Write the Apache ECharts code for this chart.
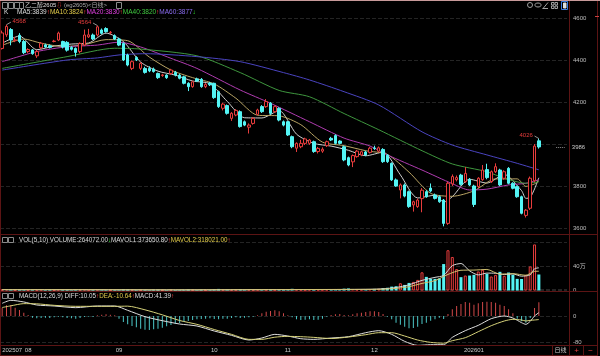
<!DOCTYPE html>
<html><head><meta charset="utf-8">
<script src="https://cdn.jsdelivr.net/npm/echarts@6/dist/echarts.min.js"></script>
<style>html,body{margin:0;padding:0;background:#000;}#c{width:600px;height:356px;}</style>
</head><body><div id="c"></div>
<script>
// ---------- data ----------
const opens = [
4455,4520,4545,4492,4518,4488,4440,4448,4420,4458,
4472,4468,4488,4495,4488,4484,4460,4455,4440,4471,
4510,4519,4519,4543,4550,4530,4516,4500,4479,4424,
4360,4412,4360,4360,4360,4357,4336,4326,4328,4336,
4341,4328,4320,4289,4273,4310,4308,4273,4290,4289,
4249,4170,4183,4122,4138,4154,4106,4080,4098,4141,
4178,4178,4194,4154,4170,4106,4106,4035,3980,3987,
4003,4003,4011,3964,3966,3992,4027,4040,4014,3987,
3935,3915,3940,3948,3962,3960,3981,3966,3974,3947,
3908,3829,3781,3805,3773,3710,3702,3740,3773,3790,
3757,3749,3733,3622,3810,3830,3852,3821,3832,3800,
3797,3830,3878,3821,3868,3876,3837,3884,3813,3797,
3749,3660,3694,3825,4015];
const closes = [
4529,4560,4495,4496,4488,4435,4450,4430,4440,4480,
4462,4460,4490,4528,4462,4447,4451,4436,4479,4519,
4520,4500,4558,4527,4535,4532,4500,4471,4400,4376,
4392,4400,4384,4341,4348,4345,4316,4329,4316,4352,
4328,4313,4289,4273,4296,4300,4273,4284,4282,4221,
4178,4190,4146,4146,4160,4083,4090,4090,4122,4162,
4154,4202,4146,4178,4114,4090,4043,3987,4003,4003,
4024,4019,3964,3979,3975,4011,4019,4003,4003,3924,
3900,3945,3966,3963,3948,3980,3979,3982,3916,3916,
3829,3800,3805,3752,3702,3725,3733,3780,3749,3776,
3741,3725,3622,3813,3845,3840,3808,3860,3805,3712,
3837,3876,3840,3868,3892,3805,3868,3813,3789,3749,
3670,3685,3837,3990,3986];
const highs = [
4540,4568,4552,4510,4528,4495,4456,4452,4448,4486,
4478,4474,4496,4535,4492,4490,4466,4460,4484,4545,
4548,4526,4564,4550,4556,4538,4522,4506,4484,4430,
4398,4418,4390,4368,4370,4364,4340,4334,4332,4358,
4348,4334,4325,4294,4302,4316,4314,4290,4296,4292,
4254,4196,4188,4152,4166,4160,4112,4098,4128,4168,
4185,4214,4200,4184,4175,4112,4110,4040,4008,4020,
4030,4024,4016,3986,3984,4016,4034,4046,4018,3992,
3940,3950,3972,3968,3968,3986,3992,3988,3980,3952,
3912,3836,3812,3812,3778,3730,3740,3790,3780,3812,
3764,3755,3738,3820,3855,3850,3858,3890,3838,3806,
3842,3900,3906,3874,3908,3882,3875,3890,3818,3802,
3754,3690,3845,4000,4026];
const lows = [
4450,4510,4470,4485,4480,4428,4432,4425,4410,4452,
4458,4455,4484,4490,4455,4440,4445,4416,4432,4466,
4505,4495,4512,4522,4530,4522,4495,4466,4395,4370,
4352,4395,4352,4335,4342,4340,4310,4320,4310,4330,
4322,4308,4284,4252,4268,4295,4268,4266,4276,4215,
4172,4160,4140,4110,4132,4078,4085,4050,4092,4136,
4148,4172,4140,4148,4108,4084,4038,3980,3962,3980,
3995,3996,3958,3955,3958,3986,4014,3998,3998,3918,
3894,3890,3935,3942,3942,3955,3972,3960,3910,3910,
3824,3796,3741,3746,3696,3678,3696,3675,3744,3770,
3736,3720,3608,3615,3800,3822,3802,3815,3800,3700,
3790,3825,3832,3815,3862,3800,3830,3808,3784,3744,
3665,3650,3686,3818,3978];
const volumes = [
14000,22000,16000,9000,12000,18000,11000,8000,13000,15000,9000,10000,8000,16000,12000,14000,9000,13000,15000,20000,12000,10000,18000,11000,9000,7000,10000,13000,24000,19000,
12000,10000,9000,11000,8000,14000,12000,7000,9000,11000,8000,10000,13000,16000,11000,9000,12000,8000,10000,20000,26000,14000,18000,12000,15000,22000,13000,16000,12000,14000,
10000,15000,18000,12000,16000,20000,24000,28000,18000,14000,12000,16000,22000,15000,13000,18000,12000,20000,16000,30000,34000,22000,18000,15000,20000,24000,26000,28000,
40000,45000,64000,70000,120000,92000,125000,142000,175000,300000,225000,192000,192000,200000,436000,664000,553000,353000,220000,247000,247000,258000,314000,342000,275000,231000,258000,308000,242000,297000,258000,192000,190000,258000,397000,760000,264072];
const macdHist = [
25,32,33,25,18,10,3,
-5,-7,-6,-5,-6,-4,-2,-4,-6,-7,-8,-6,-3,-2,-3,2,4,5,4,2,
-8,-18,-25,-30,-34,-38,-41,-42,-40,-38,-35,-31,-27,-24,-21,-18,-15,-12,-10,-9,-8,-7,-9,-10,-8,-8,-6,-4,-6,-5,-4,-2,2,8,13,15,17,14,8,2,-4,
-10,-12,-11,-10,-12,-11,-8,-2,3,5,6,3,2,5,8,10,12,14,14,12,6,-2,
-10,-20,-26,-32,-37,-36,-32,-24,-20,-14,-10,-5,-9,6,20,30,36,42,40,34,38,42,43,42,40,34,30,20,8,-8,-16,-20,-6,24,41.39];
// moving-average curves read at sample candles: [candle index, value]
const ma5Pts = [[0,4480],[4,4514],[8,4449],[12,4466],[16,4476],[20,4481],[24,4528],[28,4488],[32,4390],[36,4347],[40,4328],[44,4300],[48,4287],[52,4203],[56,4125],[60,4124],[64,4159],[68,4047],[72,4003],[76,3990],[80,3970],[84,3944],[88,3961],[92,3853],[96,3743],[100,3756],[102,3723],[104,3749],[108,3832],[112,3814],[116,3855],[120,3778],[121,3741],[122,3746],[123,3786],[124,3839]];
const ma10Pts = [[0,4470],[5,4500],[9,4480],[14,4464],[19,4473],[24,4497],[29,4492],[34,4414],[39,4352],[44,4316],[49,4286],[54,4218],[59,4137],[64,4134],[69,4092],[74,4009],[79,3992],[84,3968],[89,3950],[94,3866],[99,3765],[104,3751],[109,3777],[114,3834],[119,3834],[121,3798],[123,3810],[124,3824]];
const ma20Pts = [[0,4392],[8,4440],[15,4463],[22,4471],[27,4485],[32,4462],[39,4408],[45,4360],[55,4257],[62,4194],[71,4106],[79,4028],[85,3990],[89,3948],[97,3876],[104,3811],[108,3781],[112,3785],[117,3805],[121,3813],[124,3830]];
const ma40Pts = [[0,4360],[15,4416],[26,4456],[32,4452],[45,4420],[55,4340],[64,4255],[71,4225],[79,4145],[87,4068],[97,3968],[104,3905],[112,3868],[116,3837],[121,3813],[124,3820]];
const ma60Pts = [[0,4352],[15,4400],[22,4410],[27,4424],[33,4430],[45,4416],[55,4392],[65,4340],[71,4305],[79,4249],[87,4186],[97,4058],[104,3995],[112,3948],[119,3908],[124,3877]];
const mavol1Pts = [[0,14000],[20,13000],[40,10000],[60,14000],[75,16000],[85,20000],[88,28000],[91,49000],[94,94000],[97,167000],[100,217000],[102,249000],[104,409000],[106,445000],[108,324000],[110,257000],[112,287000],[114,284000],[116,263000],[118,273000],[120,236000],[122,259000],[123,359000],[124,373650.8]];
const mavol2Pts = [[0,14000],[20,13000],[40,11000],[60,14000],[75,17000],[85,19000],[88,22000],[91,35000],[94,63000],[97,117000],[100,163000],[103,265000],[106,334000],[109,337000],[112,347000],[115,270000],[118,278000],[121,251000],[123,316000],[124,318021]];
const diffPts = [[0,38],[2,47],[5,42],[8,33],[12,30],[17,25],[22,30],[26,30],[29,17],[33,-2],[37,-14],[41,-24],[45,-30],[49,-45],[53,-58],[57,-72],[60,-66],[63,-55],[66,-60],[69,-68],[72,-70],[76,-66],[80,-62],[84,-50],[87,-44],[90,-55],[93,-76],[96,-88],[99,-86],[102,-86],[104,-64],[107,-44],[110,-28],[113,-8],[116,0],[118,-6],[120,-20],[121,-25],[122,-16],[123,0],[124,10.05]];
const deaPts = [[0,25.5],[2,30.5],[5,37],[8,36.5],[12,32],[17,29],[22,29],[26,29],[29,29.5],[33,18.5],[37,3.5],[41,-13.5],[45,-25],[49,-40.5],[53,-55],[57,-70],[60,-70],[63,-63.5],[66,-61],[69,-62],[72,-64],[76,-67.5],[80,-63],[84,-56],[87,-50],[90,-50],[93,-60],[96,-72],[99,-79],[102,-81.5],[104,-74],[107,-65],[110,-47],[113,-29],[116,-15],[118,-10],[120,-12],[121,-15],[122,-13],[123,-12],[124,-10.64]];
const tickIdx  = [0, 6, 27, 49, 66, 86, 109];
const tickText = ['202507','08','09','10','11','12','202601'];
const peakIdx = [1, 22, 124];
const troughIdx = [102];
const padRight = 6; // empty slots at the right edge of the time axis

// ---------- chart ----------
const FONT = 'Liberation Sans, Arial, "Noto Sans CJK SC", sans-serif';
const RED = '#e83c3c', CYAN = '#54f4f4', FRAME = '#5c1414';
const n = closes.length;
const cats = Array.from({length: n + padRight}, (_, i) => String(i));
const candle = opens.map((o, i) => [o, closes[i], lows[i], highs[i]]);
const volData = volumes.map((v, i) => ({value: v, itemStyle: closes[i] >= opens[i]
  ? {color: '#000', borderColor: RED, borderWidth: 1} : {color: CYAN}}));
const macdData = macdHist.map(v => ({value: v, itemStyle: {color: v >= 0 ? '#d04848' : '#4cc8c8'}}));
const last = n - 1;

const marks = [];
peakIdx.forEach((i, k) => {
  const d = (k === 0) ? 1 : -1;
  const lab = {show: true, position: 'end', formatter: String(highs[i]), color: RED, fontSize: 6, fontFamily: FONT, distance: 2};
  marks.push([{coord: [String(i), highs[i]], label: lab}, {coord: [String(i + d), highs[i] + 12], label: lab}]);
});
troughIdx.forEach(i => {
  const lab = {show: true, position: 'end', formatter: String(lows[i]), color: '#5ad8d8', fontSize: 6, fontFamily: FONT, distance: 2};
  marks.push([{coord: [String(i), lows[i]], label: lab}, {coord: [String(i - 1), lows[i] - 12], label: lab}]);
});
{
  const lab = {show: true, position: 'end', formatter: String(closes[last]), color: '#c8c8c8', fontSize: 6, fontFamily: FONT, distance: 7};
  const ls = {type: 'dotted', color: '#909090', width: 1};
  marks.push([{coord: [String(last + 4), closes[last]], label: lab, lineStyle: ls}, {coord: [String(last + 6), closes[last]], label: lab, lineStyle: ls}]);
}

function maLine(pts, color, xi, yi, extra) {
  return Object.assign({type: 'line', data: pts, xAxisIndex: xi, yAxisIndex: yi, smooth: 0.25,
    showSymbol: false, symbol: 'none', lineStyle: {width: 1, color: color}, silent: true, z: 3}, extra || {});
}
const xa = (gi, lab) => ({type: 'category', gridIndex: gi, data: cats, boundaryGap: true,
  axisLine: {show: false}, axisTick: {show: false}, splitLine: {show: false},
  axisLabel: lab ? {show: true, color: '#c8c8c8', fontSize: 6, fontFamily: FONT, margin: 5, alignMinLabel: 'left',
    interval: (i) => tickIdx.indexOf(i) >= 0,
    formatter: (v) => { const k = tickIdx.indexOf(Number(v)); return k >= 0 ? tickText[k] : ''; }} : {show: false}});
const ya = (gi, min, max, itv, fmt) => ({type: 'value', gridIndex: gi, position: 'right', min: min, max: max, interval: itv,
  axisLine: {show: false}, axisTick: {show: false},
  axisLabel: {color: '#bdbdbd', fontSize: 6, fontFamily: FONT, margin: 6, formatter: fmt},
  splitLine: {show: true, lineStyle: {color: '#242424', type: 'dashed', width: 1}}});

const G = (a) => Object.assign({left: 0, right: 33, containLabel: false, outerBoundsMode: 'none'}, a);
const L = (x1, y1, x2, y2, c) => ({type: 'line', silent: true, shape: {x1, y1, x2, y2}, style: {stroke: c || FRAME, lineWidth: 1}, z: 50});
const T = (x, y, text, fill, size, align, rich) => ({type: 'text', silent: true, z: 60,
  style: {x, y, text, fill, fontSize: size, fontFamily: FONT, align: align || 'left', verticalAlign: 'middle', rich: rich}});
const R = (x, y, w, h, stroke, fill) => ({type: 'rect', silent: true, z: 60, shape: {x, y, width: w, height: h}, style: {stroke, fill: fill || 'none', lineWidth: 1}});

const richC = {
  w: {fill: '#dcdcdc'}, r: {fill: '#ff4040'}, gr: {fill: '#30e030'}, y: {fill: '#e2cc4a'},
  m: {fill: '#e040e0'}, g: {fill: '#40c840'}, p: {fill: '#8a6cf0'}, gy: {fill: '#a8a8a8'}
};

const graphics = [
  L(0, 0.5, 600, 0.5, '#c89a9a'),
  L(0.5, 1, 0.5, 356),
  L(0, 234.5, 598, 234.5), L(0, 291.5, 598, 291.5), L(0, 345.5, 598, 345.5), L(0, 355.5, 598, 355.5),
  L(569.5, 1, 569.5, 356), L(597.5, 1, 597.5, 356), L(552.5, 345, 552.5, 356), L(583.5, 345, 583.5, 356),
  L(595, 16.5, 599, 16.5, '#d04040'),
  // title bar
  R(2.5, 2.5, 5, 6, '#8a8a8a'), R(8.5, 2.5, 5, 6, '#8a8a8a'), R(14.5, 2.5, 5, 6, '#8a8a8a'), R(19.5, 2.5, 4, 6, '#8a8a8a'),
  T(25, 5.5, '{w|乙二醇2605}{r|⇩} {gy|(eg2605)<日线>}', '#ddd', 6, 'left', richC),
  R(116.5, 2.5, 5, 6, '#8a8a8a'),
  // top-right tool icons
  {type: 'circle', silent: true, z: 60, shape: {cx: 530, cy: 5, r: 2.5}, style: {stroke: '#a0a0a0', fill: 'none'}},
  {type: 'ellipse', silent: true, z: 60, shape: {cx: 538, cy: 5, rx: 3.2, ry: 2}, style: {stroke: '#a0a0a0', fill: 'none'}},
  L(543, 8.5, 548, 2.5, '#a0a0a0'), L(542.5, 8.5, 548, 8.5, '#a0a0a0'),
  R(551.5, 2.5, 2.5, 2.5, '#a0a0a0'), R(555, 2.5, 2.5, 2.5, '#a0a0a0'), R(551.5, 6, 2.5, 2.5, '#a0a0a0'), R(555, 6, 2.5, 2.5, '#a0a0a0'),
  R(561.5, 1.5, 6, 8, '#3a78e0'), R(563.5, 3, 2.5, 5, '#dddddd', '#dddddd'),
  // legends
  T(4, 12.5, 'K', '#dcdcdc', 6.5),
  T(17, 12.5, '{w|MA5:3839}{r|↑}{y|MA10:3824}{r|↑}{m|MA20:3830}{r|↑}{g|MA40:3820}{r|↑}{p|MA60:3877}{gr|↓}', '#ddd', 6.5, 'left', richC),
  R(2.5, 237.5, 5, 5, '#8a8a8a'), R(8.5, 237.5, 5, 5, '#8a8a8a'),
  T(19, 240, '{w|VOL(5,10) VOLUME:264072.00}{gr|↓}{w|MAVOL1:373650.80}{r|↑}{y|MAVOL2:318021.00}{r|↑}', '#ddd', 6.3, 'left', richC),
  R(2.5, 293.5, 5, 5, '#8a8a8a'), R(8.5, 293.5, 5, 5, '#8a8a8a'),
  T(19, 296, '{w|MACD(12,26,9) DIFF:10.05}{r|↑}{y|DEA:-10.64}{r|↑}{w|MACD:41.39}{r|↑}', '#ddd', 6.3, 'left', richC),
  // bottom right
  T(560.5, 350.5, '日线', '#c8c8c8', 6, 'center'),
  T(576.5, 350.5, '+', '#e04040', 8, 'center'),
  T(590.5, 350.5, '−', '#e04040', 8, 'center')
];

const option = {
  backgroundColor: '#000',
  animation: false,
  grid: [G({top: 18, height: 210}), G({top: 242, height: 48.5}), G({top: 289.3, height: 53.4})],
  xAxis: [xa(0, false), xa(1, false), xa(2, true)],
  yAxis: [
    ya(0, 3600, 4600, 200, v => v === 4000 ? '' : String(v)),
    ya(1, 0, 800000, 400000, v => v === 0 ? '0' : (v === 400000 ? '40万' : '')),
    ya(2, -80, 80, 80, v => v === 0 ? '0' : (v === -80 ? '-80' : ''))
  ],
  series: [
    {type: 'candlestick', xAxisIndex: 0, yAxisIndex: 0, data: candle, barWidth: 3, z: 4,
      itemStyle: {color: '#000', color0: CYAN, borderColor: RED, borderColor0: CYAN, borderWidth: 1, borderColorDoji: CYAN},
      markLine: {silent: true, symbol: ['none', 'none'], animation: false, precision: 0,
        lineStyle: {color: '#b8b8b8', width: 0.8, type: 'solid'}, emphasis: {disabled: true}, data: marks}},
    maLine(ma5Pts, '#cfcfcf', 0, 0),
    maLine(ma10Pts, '#b9a464', 0, 0),
    maLine(ma20Pts, '#b03cb0', 0, 0),
    maLine(ma40Pts, '#3e963e', 0, 0),
    maLine(ma60Pts, '#4a44c0', 0, 0),
    {type: 'bar', xAxisIndex: 1, yAxisIndex: 1, data: volData, barWidth: 3, silent: true},
    maLine(mavol1Pts, '#d8d8d8', 1, 1),
    maLine(mavol2Pts, '#cfc070', 1, 1),
    {type: 'bar', xAxisIndex: 2, yAxisIndex: 2, data: macdData, barWidth: 1, silent: true},
    maLine(diffPts, '#dedede', 2, 2, {clip: false}),
    maLine(deaPts, '#d6d27a', 2, 2, {clip: false})
  ],
  graphic: graphics
};
const chart = echarts.init(document.getElementById('c'));
chart.setOption(option);
</script></body></html>
